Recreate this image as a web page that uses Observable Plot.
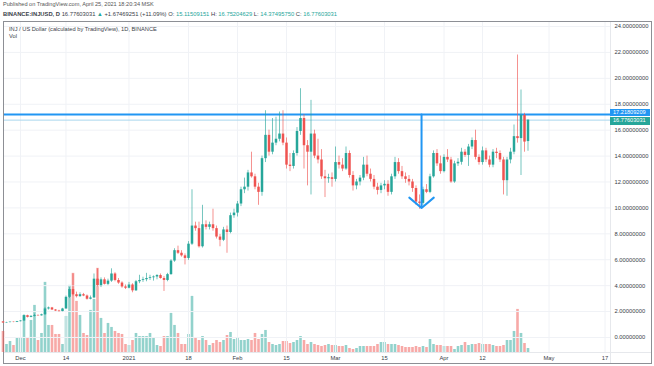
<!DOCTYPE html>
<html><head><meta charset="utf-8">
<script src="https://cdn.jsdelivr.net/npm/d3@7"></script>
<script src="https://cdn.jsdelivr.net/npm/@observablehq/plot@0.6"></script>
<style>
body{margin:0;background:#fff;font-family:"Liberation Sans",Arial,sans-serif;}
#wrap{position:relative;width:654px;height:366px;overflow:hidden;background:#fff;}
.t{position:absolute;white-space:nowrap;color:#3a3e48;line-height:1;}
.up{color:#26a69a;}
#frame{position:absolute;left:3px;top:21px;width:647px;height:341px;border:1px solid #8d8f95;box-sizing:content-box;}
.layer{position:absolute;left:0;top:0;}
.sep{position:absolute;background:#e6e8ec;}
.box{position:absolute;left:610px;width:40px;height:7.5px;color:#fff;font-size:5.6px;line-height:7.5px;padding-left:3px;box-sizing:border-box;}
</style></head><body>
<div id="wrap">
 <div class="t" style="left:3px;top:2px;font-size:5.6px;color:#555;">Published on TradingView.com, April 25, 2021 18:20:34 MSK</div>
 <div class="t" style="left:3px;top:12px;font-size:5.8px;"><b>BINANCE:INJUSD, D</b> 16.77603031 <span class="up">▲</span> +1.67469251 (+11.09%) O: <span class="up">15.11509151</span> H: <span class="up">16.75204629</span> L: <span class="up">14.37495750</span> C: <span class="up">16.77603031</span></div>
 <div id="frame"></div>
 <div class="sep" style="left:610px;top:22px;width:1px;height:341px;"></div>
 <div class="sep" style="left:4px;top:352px;width:647px;height:1px;"></div>
 <div class="layer" id="vol"></div>
 <div class="layer" id="price"></div>
 <div class="t" style="left:9px;top:27px;font-size:5.7px;">INJ / US Dollar (calculated by TradingView), 1D, BINANCE</div>
 <div class="t" style="left:9px;top:34px;font-size:5.7px;">Vol</div>
</div>
<script>
// ---- data (daily, first bar 2020-11-26, last bar 2021-04-25) ----
const firstDay = "2020-11-26";
const opens = [
1.20,1.12,1.15,1.18,1.16,
1.22,1.27,1.68,1.55,1.63,1.70,1.67,1.75,2.20,2.28,2.12,2.04,2.00,2.20,3.10,3.70,3.30,3.15,3.30,3.20,2.95,3.05,4.50,4.00,4.45,4.10,4.35,4.90,4.40,4.20,3.90,
3.80,4.05,3.60,4.30,4.40,4.46,4.55,4.61,4.67,4.78,4.55,4.40,4.85,5.90,6.70,6.50,6.30,6.10,7.20,8.60,8.40,7.00,8.70,8.50,8.70,8.40,7.75,7.50,8.30,8.10,9.40,
9.60,10.30,11.40,11.60,12.70,12.40,11.60,11.20,13.80,15.60,14.30,15.00,15.30,15.70,15.00,13.30,13.20,14.20,15.90,16.90,14.80,14.30,15.70,14.00,13.70,12.40,12.25,12.33,
12.20,13.50,13.30,13.00,14.20,12.50,11.70,12.00,12.30,13.30,12.60,12.20,11.60,11.35,11.70,11.82,11.20,12.40,13.50,12.80,12.40,12.20,12.00,11.50,10.45,10.35,11.40,11.20,12.40,14.20,13.40,
12.80,13.90,13.70,12.00,13.40,13.52,14.30,14.05,14.70,15.20,13.90,13.50,14.40,13.70,13.30,14.30,14.20,13.70,12.10,13.70,14.30,15.50,15.35,17.14,15.12];
const highs = [
1.22,1.17,1.20,1.20,1.24,
1.30,1.75,1.72,1.68,1.80,1.74,1.80,2.30,2.35,2.32,2.16,2.10,2.25,3.20,3.85,4.90,3.50,3.45,3.40,3.28,3.20,4.90,5.30,4.60,4.60,4.50,5.30,5.00,4.55,4.30,4.05,
4.25,4.15,4.40,4.80,4.65,4.95,4.80,4.75,4.85,4.90,4.70,4.95,6.00,6.85,7.05,6.70,6.45,7.40,11.40,8.90,8.90,10.20,9.00,8.90,9.90,8.60,7.95,8.50,8.60,9.60,9.90,
10.50,11.60,12.30,12.90,14.30,12.60,11.90,14.00,17.50,16.00,16.90,17.00,17.40,17.50,15.40,14.20,14.40,16.20,19.20,17.20,15.20,18.30,16.00,15.30,14.50,12.90,12.60,12.70,
14.70,14.00,13.80,14.70,14.40,12.80,12.20,12.50,13.90,14.00,13.00,12.50,11.90,11.90,12.10,12.10,12.60,13.90,13.80,13.20,12.70,12.50,12.20,11.70,11.00,11.60,11.80,12.60,14.40,14.50,14.00,
14.10,14.50,13.90,13.60,13.80,14.60,14.50,14.90,15.40,16.00,14.10,14.70,14.60,14.00,14.50,14.60,14.40,13.90,13.90,14.60,16.40,21.80,19.10,17.30,16.78];
const lows = [
1.08,1.10,1.13,1.14,1.15,
1.20,1.25,1.50,1.52,1.58,1.64,1.65,1.72,2.12,2.08,2.00,1.95,1.98,2.18,3.00,3.20,3.05,3.10,3.15,2.88,2.90,3.00,3.90,3.85,4.05,4.00,4.25,4.30,4.10,3.80,3.70,
3.75,3.45,3.55,4.15,4.25,4.30,4.40,4.35,4.45,4.50,3.55,4.30,4.80,5.80,6.40,6.20,5.60,5.95,7.10,8.20,6.90,6.90,8.30,8.30,8.20,7.60,7.00,7.40,6.50,8.00,9.20,
9.30,10.10,11.10,11.30,12.30,11.40,10.20,10.90,13.50,14.00,14.10,14.80,15.10,14.80,13.00,12.80,13.00,14.00,15.60,13.00,11.70,11.00,13.80,13.40,12.20,10.80,11.90,11.60,
12.00,13.00,12.80,12.90,12.30,11.30,11.40,11.70,12.10,12.40,12.00,11.40,11.00,11.10,11.40,10.90,11.00,12.20,12.60,12.20,11.90,11.70,11.20,10.20,9.90,10.20,11.10,11.10,12.30,13.20,12.60,
12.70,13.50,11.90,11.90,13.20,13.30,13.90,13.20,14.50,13.70,13.30,13.30,13.50,13.10,13.10,13.80,13.50,11.00,10.90,13.40,14.10,15.00,12.50,14.30,14.37];
const closes = [
1.12,1.15,1.18,1.16,1.22,
1.27,1.68,1.55,1.63,1.70,1.67,1.75,2.20,2.28,2.12,2.04,2.00,2.20,3.10,3.70,3.30,3.15,3.30,3.20,2.95,3.05,4.50,4.00,4.45,4.10,4.35,4.90,4.40,4.20,3.90,3.80,
4.05,3.60,4.30,4.40,4.46,4.55,4.61,4.67,4.78,4.55,4.40,4.85,5.90,6.70,6.50,6.30,6.10,7.20,8.60,8.40,7.00,8.70,8.50,8.70,8.40,7.75,7.50,8.30,8.10,9.40,9.60,
10.30,11.40,11.60,12.70,12.40,11.60,11.20,13.80,15.60,14.30,15.00,15.30,15.70,15.00,13.30,13.20,14.20,15.90,16.90,14.80,14.30,15.70,14.00,13.70,12.40,12.25,12.33,12.20,
13.50,13.30,13.00,14.20,12.50,11.70,12.00,12.30,13.30,12.60,12.20,11.60,11.35,11.70,11.82,11.20,12.40,13.50,12.80,12.40,12.20,12.00,11.50,10.45,10.35,11.40,11.20,12.40,14.20,13.40,12.80,
13.90,13.70,12.00,13.40,13.52,14.30,14.05,14.70,15.20,13.90,13.50,14.40,13.70,13.30,14.30,14.20,13.70,12.10,13.70,14.30,15.50,15.35,17.14,15.08,16.776];
const volumes = [
21,8,11,7,14,
15,37,14,32,47,12,19,70,27,27,18,18,8,36,67,79,51,37,19,17,42,53,84,34,19,29,25,21,19,18,8,
7,12,19,16,16,16,19,14,7,6,16,16,39,27,19,8,8,18,56,15,12,16,12,7,9,12,10,12,17,20,13,
15,12,12,13,12,19,13,18,22,10,8,7,8,11,11,9,10,12,16,12,8,10,8,7,6,7,8,7,
7,6,6,7,4,3,4,6,6,6,6,6,8,10,10,8,8,8,7,6,5,5,5,6,5,6,5,13,8,7,7,
6,6,6,3,6,7,10,7,8,8,9,8,8,8,7,6,6,7,12,12,21,43,19,9,4];

const priceTicks = [0,2,4,6,8,10,12,14,16,18,20,22,24];
const timeTicks = ["2020-12-01","2020-12-14","2021-01-01","2021-01-18","2021-02-01","2021-02-15","2021-03-01","2021-03-15","2021-04-01","2021-04-12","2021-05-01","2021-05-17"];
const timeTickLabels = ["Dec","14","2021","18","Feb","15","Mar","15","Apr","12","May","17"];

const resistance = 17.21809209;
const lastPrice = 16.77603031;
const arrowDate = "2021-03-25T14:00:00Z";
const arrowTip = 10.0;

// ---- build ----
const n = opens.length;
if (![highs, lows, closes, volumes].every(a => a.length === n)) throw new Error("length mismatch " + [n, highs.length, lows.length, closes.length, volumes.length]);
const start = new Date(firstDay + "T00:00:00Z");
const rows = opens.map((o, i) => ({date: d3.utcDay.offset(start, i), o, h: highs[i], l: lows[i], c: closes[i], v: volumes[i]}));
const up = rows.filter(d => d.c >= d.o), dn = rows.filter(d => d.c < d.o);
const tickDates = timeTicks.map(s => new Date(s + "T00:00:00Z"));
const day = 864e5, ref = Date.UTC(2020, 11, 1);
const xDomain = [new Date(ref - 4.57 * day), new Date(ref + 168.57 * day)];

const GREEN = "#26a69a", RED = "#ef5350";
const common = {width: 654, height: 366, marginLeft: 4, marginRight: 44, marginTop: 22, marginBottom: 14,
  style: {background: "transparent", fontFamily: "Liberation Sans, Arial, sans-serif", fontSize: "5.8px", color: "#3a3e48", overflow: "visible"}};

const vmax = d3.max(volumes);
const volPlot = Plot.plot({...common,
  x: {type: "utc", domain: xDomain, axis: null},
  y: {domain: [0, vmax / 0.255], axis: null},
  marks: [
    Plot.ruleX(up, {x: "date", y1: 0, y2: "v", stroke: GREEN, strokeOpacity: 0.5, strokeWidth: 2.6}),
    Plot.ruleX(dn, {x: "date", y1: 0, y2: "v", stroke: RED, strokeOpacity: 0.5, strokeWidth: 2.6})
  ]});
document.getElementById("vol").appendChild(volPlot);

const pricePlot = Plot.plot({...common,
  x: {type: "utc", domain: xDomain},
  y: {domain: [-1.16, 24.31]},
  marks: [
    Plot.gridY(priceTicks, {stroke: "#f0f2f6", strokeOpacity: 1}),
    Plot.gridX(tickDates, {stroke: "#f0f2f6", strokeOpacity: 1}),
    Plot.axisY(priceTicks, {anchor: "right", tickSize: 0, tickPadding: 4, tickFormat: d3.format(".8f"), label: null, fill: "#3a3e48"}),
    Plot.axisX(tickDates, {anchor: "bottom", tickSize: 0, tickPadding: 3, label: null, fill: "#3a3e48",
      tickFormat: (d) => timeTickLabels[tickDates.findIndex(t => +t === +d)]}),
    Plot.ruleY([lastPrice], {stroke: "#a9d6ee", strokeWidth: 1}),
    Plot.ruleY([resistance], {stroke: "#2196f3", strokeWidth: 2}),
    Plot.ruleX(up, {x: "date", y1: "l", y2: "h", stroke: GREEN, strokeWidth: 0.8, strokeOpacity: 0.8}),
    Plot.ruleX(dn, {x: "date", y1: "l", y2: "h", stroke: RED, strokeWidth: 0.8, strokeOpacity: 0.8}),
    Plot.ruleX(up, {x: "date", y1: "o", y2: "c", stroke: GREEN, strokeWidth: 2.5}),
    Plot.ruleX(dn, {x: "date", y1: "o", y2: "c", stroke: RED, strokeWidth: 2.5}),
    Plot.arrow([{d: new Date(arrowDate), top: resistance, tip: arrowTip}], {x1: "d", x2: "d", y1: "top", y2: "tip",
      stroke: "#2196f3", strokeWidth: 2, headLength: 12, headAngle: 100, bend: 0, insetStart: 0, insetEnd: 0})
  ]});
document.getElementById("price").appendChild(pricePlot);

// price labels on the scale, positioned through the plot's y scale
const sy = pricePlot.scale("y");
function box(val, color, shift) {
  const b = document.createElement("div");
  b.className = "box";
  b.style.background = color;
  b.style.top = (sy.apply(val) - 3.75 + shift) + "px";
  b.textContent = d3.format(".8f")(val);
  document.getElementById("wrap").appendChild(b);
}
box(resistance, "#2196f3", -1.5);
box(lastPrice, "#26a69a", 1.5);
</script>
</body></html>
